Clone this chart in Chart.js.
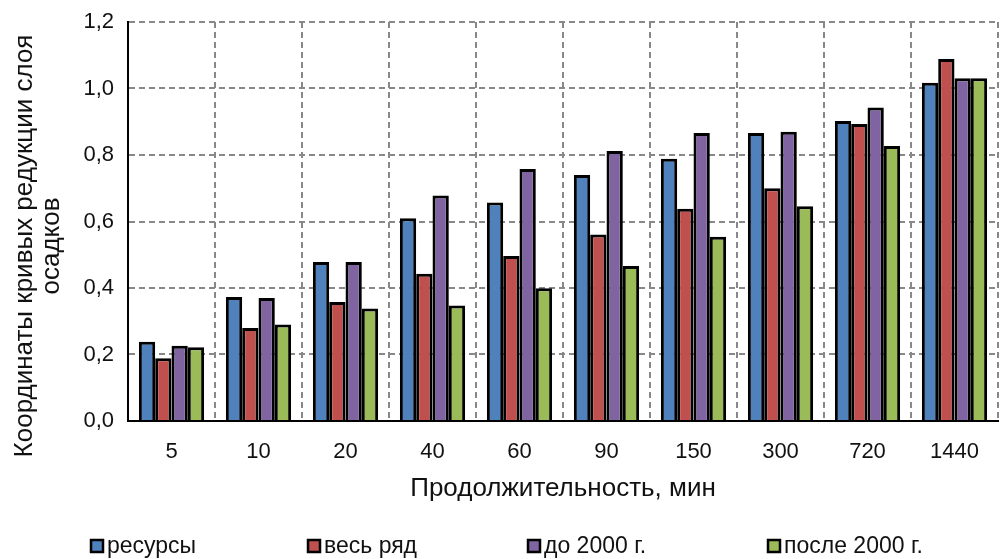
<!DOCTYPE html>
<html><head><meta charset="utf-8">
<script src="https://cdn.jsdelivr.net/npm/chart.js@4/dist/chart.umd.min.js"></script>
<style>html,body{margin:0;padding:0;background:#fff}#wrap{width:1001px;height:559px}</style>
</head><body><div id="wrap"><canvas id="c" width="1001" height="559"></canvas></div>
<script>
const categories = ['5','10','20','40','60','90','150','300','720','1440'];
const seriesNames = ['ресурсы','весь ряд','до 2000 г.','после 2000 г.'];
const resursy = [0.238,0.373,0.478,0.610,0.657,0.740,0.789,0.866,0.902,1.017];
const vesRyad = [0.189,0.280,0.358,0.443,0.496,0.561,0.638,0.700,0.893,1.089];
const do2000 = [0.226,0.370,0.478,0.678,0.758,0.812,0.866,0.870,0.943,1.031];
const posle2000 = [0.222,0.290,0.338,0.347,0.399,0.466,0.554,0.646,0.827,1.031];
const yTicks = [0,0.2,0.4,0.6,0.8,1.0,1.2];
const yTitleLines = ['Координаты кривых редукции слоя','осадков'];
const colors = ['#4F81BD','#C0504D','#8064A2','#9BBB59'];
const values = [resursy,vesRyad,do2000,posle2000];

const font = 'Liberation Sans, Arial, sans-serif';
const textColor = '#111';

const customText = {
  id: 'customText',
  afterDraw(chart) {
    const ctx = chart.ctx;
    ctx.save();
    ctx.fillStyle = textColor;
    ctx.font = '26px ' + font;
    ctx.textAlign = 'center';
    ctx.textBaseline = 'middle';
    const cy = 246;
    const xs = [25, 52];
    yTitleLines.forEach((t, i) => {
      ctx.save();
      ctx.translate(xs[i], cy);
      ctx.rotate(-Math.PI / 2);
      ctx.fillText(t, 0, 0);
      ctx.restore();
    });
    const lx = [90, 307, 527, 767];
    const ly = 546;
    ctx.font = '23px ' + font;
    ctx.textAlign = 'left';
    chart.data.datasets.forEach((ds, i) => {
      ctx.fillStyle = ds.backgroundColor;
      ctx.fillRect(lx[i] + 1, ly - 6, 12, 12);
      ctx.strokeStyle = '#000';
      ctx.lineWidth = 2.5;
      ctx.strokeRect(lx[i] + 1, ly - 6, 12, 12);
      ctx.fillStyle = textColor;
      ctx.fillText(ds.label, lx[i] + 17, ly + 1);
    });
    ctx.restore();
  }
};

new Chart(document.getElementById('c'), {
  type: 'bar',
  data: {
    labels: categories,
    datasets: values.map((v,i)=>({
      label: seriesNames[i], data: v, backgroundColor: colors[i],
      borderColor: '#000', borderWidth: 3,
      barPercentage: 1.0, categoryPercentage: 0.75
    }))
  },
  options: {
    responsive: false, animation: false,
    layout: {padding: {left: 0, right: 3, top: 22, bottom: 50}},
    plugins: {
      tooltip: {enabled:false},
      legend: {display: false}
    },
    scales: {
      x: {
        afterFit: s => { s.height = 88; s.paddingLeft = 0; s.paddingRight = 0; },
        grid: {color: '#888', lineWidth: 2, drawTicks: false, offset: true},
        border: {color: '#000', width: 2, dash: [6,4]},
        ticks: {font: {family: font, size: 22}, color: textColor, padding: 18},
        title: {display: true, text: 'Продолжительность, мин', font: {family: font, size: 26}, color: textColor, padding: {top: 0, bottom: 5}}
      },
      y: {
        min: 0, max: 1.2,
        afterBuildTicks: s => { s.ticks = yTicks.map(v=>({value:v})); },
        afterFit: s => { s.width = 128; s.paddingTop = 0; s.paddingBottom = 0; },
        grid: {color: '#888', lineWidth: 2, drawTicks: false},
        border: {color: '#000', width: 2, dash: [6,4]},
        ticks: {font: {family: font, size: 22}, color: textColor, padding: 14,
          callback: v => v.toFixed(1).replace('.', ',')}
      }
    }
  },
  plugins: [customText]
});
</script></body></html>
